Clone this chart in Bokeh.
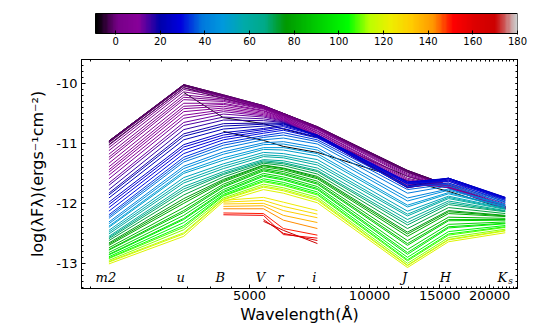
import numpy as np
from bokeh.plotting import figure
from bokeh.layouts import column
from bokeh.models import (FixedTicker, PrintfTickFormatter, LogAxis, LinearAxis,
                          Range1d, LinearColorMapper, ColumnDataSource)
from bokeh.embed import file_html
from bokeh.resources import INLINE
from bokeh.core.properties import value

nan = float("nan")

# ---------------- data ----------------
bands = ["m2", "u", "B", "V", "r", "i", "J", "H", "K"]
band_wave = [2220, 3420, 4300, 5420, 6080, 7400, 12450, 15780, 21900]

epochs = [-9, -8, -7, -6, -5, -4, -3, -2, -1, 0, 1, 2, 3, 4, 5, 6, 7, 8, 9, 10, 11,
          12, 14, 16, 18, 20, 22, 24, 26, 28, 30,
          33, 36, 39, 42, 45, 48, 51, 54, 57, 60, 63,
          66, 69, 72, 75, 78, 81, 84, 87, 90, 93, 96, 99,
          102, 105, 108, 111, 114, 117, 120,
          124, 128, 133, 138, 143, 150, 156, 163, 170]

m2 = [nan, nan, -11.02, -10.98, -10.96, -10.96, -10.96, -10.97, -10.99, -11.03, -11.07,
      -11.12, -11.18, -11.23, -11.27, -11.33, -11.39, -11.44, -11.48, -11.53, -11.59,
      -11.66, -11.70, -11.77, -11.83, -11.86, -11.91, -11.98, -12.02, -12.07, -12.13,
      -12.19, -12.22, -12.25, -12.31, -12.34, -12.38, -12.40, -12.45, -12.48, -12.51, -12.55,
      -12.57, -12.59, -12.62, -12.66, -12.68, -12.70, -12.74, -12.77, -12.78, -12.82, -12.85, -12.86,
      -12.89, -12.91, -12.92, -12.95, -12.97, -12.98, -13.01,
      nan, nan, nan, nan, nan, nan, nan, nan, nan]
u = [nan, -10.15, -10.07, -10.04, -10.03, -10.02, -10.02, -10.02, -10.04, -10.07, -10.10,
     -10.14, -10.19, -10.23, -10.27, -10.33, -10.38, -10.42, -10.47, -10.53, -10.58,
     -10.65, -10.70, -10.77, -10.84, -10.88, -10.94, -11.02, -11.06, -11.11, -11.17,
     -11.23, -11.27, -11.31, -11.38, -11.42, -11.47, -11.50, -11.57, -11.62, -11.66, -11.72,
     -11.76, -11.80, -11.86, -11.92, -11.96, -12.00, -12.07, -12.12, -12.15, -12.20, -12.25, -12.27,
     -12.32, -12.37, -12.40, -12.44, -12.49, -12.51, -12.55,
     nan, nan, nan, nan, nan, nan, nan, nan, nan]
B = [-10.80, -10.57, -10.25, -10.22, -10.21, -10.20, -10.19, -10.19, -10.20, -10.21, -10.22,
     -10.24, -10.26, -10.28, -10.30, -10.33, -10.35, -10.38, -10.41, -10.44, -10.47,
     -10.51, -10.56, -10.61, -10.67, -10.71, -10.76, -10.82, -10.86, -10.90, -10.94,
     -10.99, -11.03, -11.08, -11.14, -11.18, -11.24, -11.28, -11.34, -11.38, -11.42, -11.47,
     -11.50, -11.52, -11.56, -11.60, -11.62, -11.64, -11.68, -11.71, -11.73, -11.77, -11.80, -11.82,
     -11.85, -11.87, -11.88, -11.91, -11.93, -11.94, -11.97,
     -11.95, -11.98, -12.01, -12.05, -12.09, -12.16, -12.19, nan, nan]
V = [-10.95, -10.67, -10.41, -10.39, -10.38, -10.38, -10.37, -10.37, -10.37, -10.38, -10.39,
     -10.40, -10.41, -10.42, -10.43, -10.45, -10.46, -10.48, -10.50, -10.52, -10.54,
     -10.56, -10.59, -10.62, -10.66, -10.68, -10.71, -10.75, -10.77, -10.80, -10.83,
     -10.87, -10.90, -10.94, -10.99, -11.02, -11.07, -11.10, -11.15, -11.19, -11.22, -11.27,
     -11.29, -11.31, -11.33, -11.36, -11.37, -11.39, -11.42, -11.44, -11.46, -11.50, -11.53, -11.55,
     -11.59, -11.62, -11.64, -11.68, -11.71, -11.73, -11.77,
     -11.90, -11.95, -12.00, -12.04, -12.09, -12.17, -12.20, -12.27, -12.30]
r = [-11.05, -10.76, -10.53, -10.51, -10.51, -10.50, -10.50, -10.50, -10.50, -10.51, -10.52,
     -10.53, -10.54, -10.55, -10.56, -10.57, -10.58, -10.59, -10.60, -10.61, -10.62,
     -10.63, -10.64, -10.65, -10.66, -10.67, -10.68, -10.70, -10.72, -10.75, -10.78,
     -10.82, -10.86, -10.91, -10.97, -11.01, -11.07, -11.11, -11.17, -11.21, -11.24, -11.29,
     -11.32, -11.34, -11.37, -11.41, -11.42, -11.44, -11.47, -11.50, -11.52, -11.56, -11.59, -11.61,
     -11.65, -11.68, -11.70, -11.74, -11.77, -11.79, -11.83,
     -11.98, -12.05, -12.12, -12.20, -12.28, -12.42, -12.52, -12.50, -12.45]
i = [-11.15, -10.90, -10.75, -10.74, -10.73, -10.73, -10.72, -10.72, -10.73, -10.74, -10.75,
     -10.76, -10.77, -10.79, -10.80, -10.82, -10.83, -10.85, -10.86, -10.87, -10.88,
     -10.89, -10.89, -10.89, -10.88, -10.87, -10.86, -10.86, -10.87, -10.89, -10.91,
     -10.94, -10.97, -11.01, -11.07, -11.11, -11.17, -11.21, -11.27, -11.32, -11.36, -11.41,
     -11.45, -11.47, -11.51, -11.55, -11.57, -11.59, -11.63, -11.66, -11.68, -11.72, -11.75, -11.77,
     -11.81, -11.84, -11.86, -11.90, -11.93, -11.95, -11.99,
     -12.12, -12.18, -12.24, -12.32, -12.42, -12.53, -12.58, -12.62, -12.67]
J = [-11.62, -11.55, -11.48, -11.46, -11.46, -11.45, -11.45, -11.46, -11.47, -11.49, -11.51,
     -11.53, -11.55, -11.58, -11.60, -11.62, -11.64, -11.66, -11.68, -11.70, -11.72,
     -11.73, -11.74, -11.74, -11.73, -11.71, -11.68, -11.65, -11.64, -11.65, -11.67,
     -11.72, -11.77, -11.83, -11.91, -11.96, -12.03, -12.06, -12.13, -12.18, -12.21, -12.27,
     -12.32, -12.36, -12.42, -12.48, -12.51, -12.55, -12.62, -12.67, -12.70, -12.77, -12.82, -12.85,
     -12.90, -12.94, -12.96, -13.00, -13.03, -13.04, -13.07,
     nan, nan, nan, nan, nan, nan, nan, nan, nan]
H = [-11.80, -11.74, -11.71, -11.70, -11.70, -11.70, -11.70, -11.71, -11.71, -11.72, -11.72,
     -11.73, -11.73, -11.74, -11.74, -11.74, -11.74, -11.73, -11.72, -11.70, -11.68,
     -11.66, -11.63, -11.61, -11.59, -11.58, -11.58, -11.58, -11.59, -11.61, -11.63,
     -11.66, -11.68, -11.71, -11.76, -11.78, -11.82, -11.84, -11.88, -11.90, -11.92, -11.96,
     -11.99, -12.02, -12.07, -12.12, -12.14, -12.17, -12.23, -12.27, -12.29, -12.35, -12.39, -12.41,
     -12.47, -12.51, -12.53, -12.57, -12.60, -12.61, -12.64,
     nan, nan, nan, nan, nan, nan, nan, nan, nan]
Ks = [-12.09, -12.07, -12.06, -12.05, -12.05, -12.05, -12.06, -12.06, -12.07, -12.07, -12.08,
      -12.08, -12.08, -12.09, -12.09, -12.09, -12.09, -12.08, -12.07, -12.05, -12.03,
      -12.01, -11.98, -11.95, -11.93, -11.91, -11.90, -11.90, -11.91, -11.92, -11.93,
      -11.95, -11.97, -11.99, -12.02, -12.03, -12.05, -12.06, -12.08, -12.09, -12.10, -12.12,
      -12.13, -12.14, -12.17, -12.20, -12.21, -12.22, -12.25, -12.27, -12.28, -12.31, -12.33, -12.34,
      -12.37, -12.39, -12.40, -12.43, -12.45, -12.46, -12.49,
      nan, nan, nan, nan, nan, nan, nan, nan, nan]

x_major_ticks = [5000, 10000, 15000, 20000]
y_major_ticks = [-13, -12, -11, -10]
cbar_ticks = [0, 20, 40, 60, 80, 100, 120, 140, 160, 180]
epoch_low, epoch_high = -9, 180

# ---------------- colormap (nipy_spectral) ----------------
_NS = [(0.00, 0.0, 0.0, 0.0), (0.05, 0.4667, 0.0, 0.5333), (0.10, 0.5333, 0.0, 0.6),
       (0.15, 0.0, 0.0, 0.6667), (0.20, 0.0, 0.0, 0.8667), (0.25, 0.0, 0.4667, 0.8667),
       (0.30, 0.0, 0.6, 0.8667), (0.35, 0.0, 0.6667, 0.6667), (0.40, 0.0, 0.6667, 0.5333),
       (0.45, 0.0, 0.6, 0.0), (0.50, 0.0, 0.7333, 0.0), (0.55, 0.0, 0.8667, 0.0),
       (0.60, 0.0, 1.0, 0.0), (0.65, 0.7333, 1.0, 0.0), (0.70, 0.9333, 0.9333, 0.0),
       (0.75, 1.0, 0.8, 0.0), (0.80, 1.0, 0.6, 0.0), (0.85, 1.0, 0.0, 0.0),
       (0.90, 0.8667, 0.0, 0.0), (0.95, 0.8, 0.0, 0.0), (1.0, 0.8, 0.8, 0.8)]
_pos = [row[0] for row in _NS]


def cmap(f):
    f = min(max(f, 0.0), 1.0)
    rgb = [float(np.interp(f, _pos, [row[k] for row in _NS])) for k in (1, 2, 3)]
    return "#%02x%02x%02x" % tuple(int(round(c * 255)) for c in rgb)


palette = [cmap(k / 255.0) for k in range(256)]

# ---------------- build lines ----------------
table = [m2, u, B, V, r, i, J, H, Ks]
xs, ys, cols = [], [], []
for n, t in enumerate(epochs):
    lx, ly = [], []
    for b, w in enumerate(band_wave):
        v = table[b][n]
        if not np.isnan(v):
            lx.append(w)
            ly.append(v)
    xs.append(lx)
    ys.append(ly)
    cols.append(cmap((t - epoch_low) / (epoch_high - epoch_low)))

FONT = "DejaVu Sans"

# ---------------- colorbar figure ----------------
# frame spans the same pixels as the main frame; the bar itself starts further right
px_per_unit = 422.0 / (epoch_high - epoch_low)
cb_start = epoch_high - 436.0 / px_per_unit
cb = figure(width=537, height=54, x_range=Range1d(cb_start, epoch_high), y_range=Range1d(-0.05, 1.05),
            output_backend="svg", toolbar_location=None,
            min_border_left=81, min_border_right=20, min_border_top=12, min_border_bottom=20)
mapper = LinearColorMapper(palette=palette, low=epoch_low, high=epoch_high)
grad = np.linspace(epoch_low, epoch_high, 600).reshape(1, -1)
cb.image(image=[grad], x=epoch_low, y=0, dw=epoch_high - epoch_low, dh=1, color_mapper=mapper)
cb.quad(left=[epoch_low], right=[epoch_high], bottom=[0], top=[1],
        fill_color=None, line_color="black", line_width=1)
cb.yaxis.visible = False
cb.grid.visible = False
cb.outline_line_color = None
cb.background_fill_color = None
cbx = cb.xaxis[0]
cbx.ticker = FixedTicker(ticks=cbar_ticks, minor_ticks=[])
cbx.major_tick_in = 4
cbx.major_tick_out = 0
cbx.major_tick_line_color = "black"
cbx.axis_line_color = None
cbx.major_label_text_font = FONT
cbx.major_label_text_font_size = "10px"
cbx.major_label_standoff = 2
cbx.major_label_text_color = "black"

# ---------------- main figure ----------------
p = figure(width=537, height=272, x_axis_type="log",
           x_range=Range1d(1895, 23500), y_range=Range1d(-13.42, -9.6),
           output_backend="svg", toolbar_location=None,
           min_border_left=81, min_border_right=20, min_border_top=5, min_border_bottom=38)
p.grid.visible = False
p.outline_line_color = "black"
p.outline_line_width = 1

src = ColumnDataSource(dict(xs=xs, ys=ys, color=cols))
p.multi_line(xs="xs", ys="ys", line_color="color", line_width=1.0, source=src)

# band labels
lab_y = -13.23
main_labels = ["m2", "u", "B", "V", "r", "i", "J", "H", "K"]
p.text(x=band_wave, y=[lab_y] * len(band_wave), text=main_labels,
       text_font=value("DejaVu Serif"), text_font_style="italic", text_font_size="13px",
       text_align="center", text_baseline="middle", text_color="black", x_offset=-3)
p.text(x=[band_wave[-1]], y=[lab_y], text=["s"],
       text_font=value("DejaVu Serif"), text_font_style="italic", text_font_size="9px",
       text_align="left", text_baseline="middle", text_color="black", x_offset=3, y_offset=4)

x_minor = list(range(2000, 23501, 500))
y_minor = [round(v, 1) for v in np.arange(-13.4, -9.59, 0.1)]

xa = p.xaxis[0]
xa.ticker = FixedTicker(ticks=x_major_ticks, minor_ticks=x_minor)
xa.formatter = PrintfTickFormatter(format="%d")
ya = p.yaxis[0]
ya.ticker = FixedTicker(ticks=y_major_ticks, minor_ticks=y_minor)
ya.formatter = PrintfTickFormatter(format="%d")
for ax in (xa, ya):
    ax.major_tick_in = 4
    ax.major_tick_out = 0
    ax.minor_tick_in = 2
    ax.minor_tick_out = 0
    ax.major_tick_line_color = "black"
    ax.minor_tick_line_color = "black"
    ax.axis_line_color = "black"
    ax.major_label_text_font = FONT
    ax.major_label_text_font_size = "13px"
    ax.major_label_text_color = "black"
    ax.axis_label_text_font = FONT
    ax.axis_label_text_font_size = "16px"
    ax.axis_label_text_font_style = "normal"
    ax.axis_label_text_color = "black"
xa.major_label_standoff = 2
xa.axis_label_standoff = 2
xa.axis_label = "Wavelength(Å)"
ya.major_label_standoff = 4
ya.axis_label_standoff = 6
ya.axis_label = "log(λFλ)(ergs⁻¹cm⁻²)"

top = LogAxis(ticker=FixedTicker(ticks=[], minor_ticks=x_major_ticks + x_minor))
right = LinearAxis(ticker=FixedTicker(ticks=[], minor_ticks=y_major_ticks + y_minor))
for ax in (top, right):
    ax.minor_tick_in = 2
    ax.minor_tick_out = 0
    ax.major_tick_in = 0
    ax.major_tick_out = 0
    ax.major_label_standoff = 0
    ax.minor_tick_line_color = "black"
    ax.axis_line_color = "black"
p.add_layout(top, "above")
p.add_layout(right, "right")

layout = column(cb, p, spacing=0)
open("out.html", "w").write(file_html(layout, INLINE))
